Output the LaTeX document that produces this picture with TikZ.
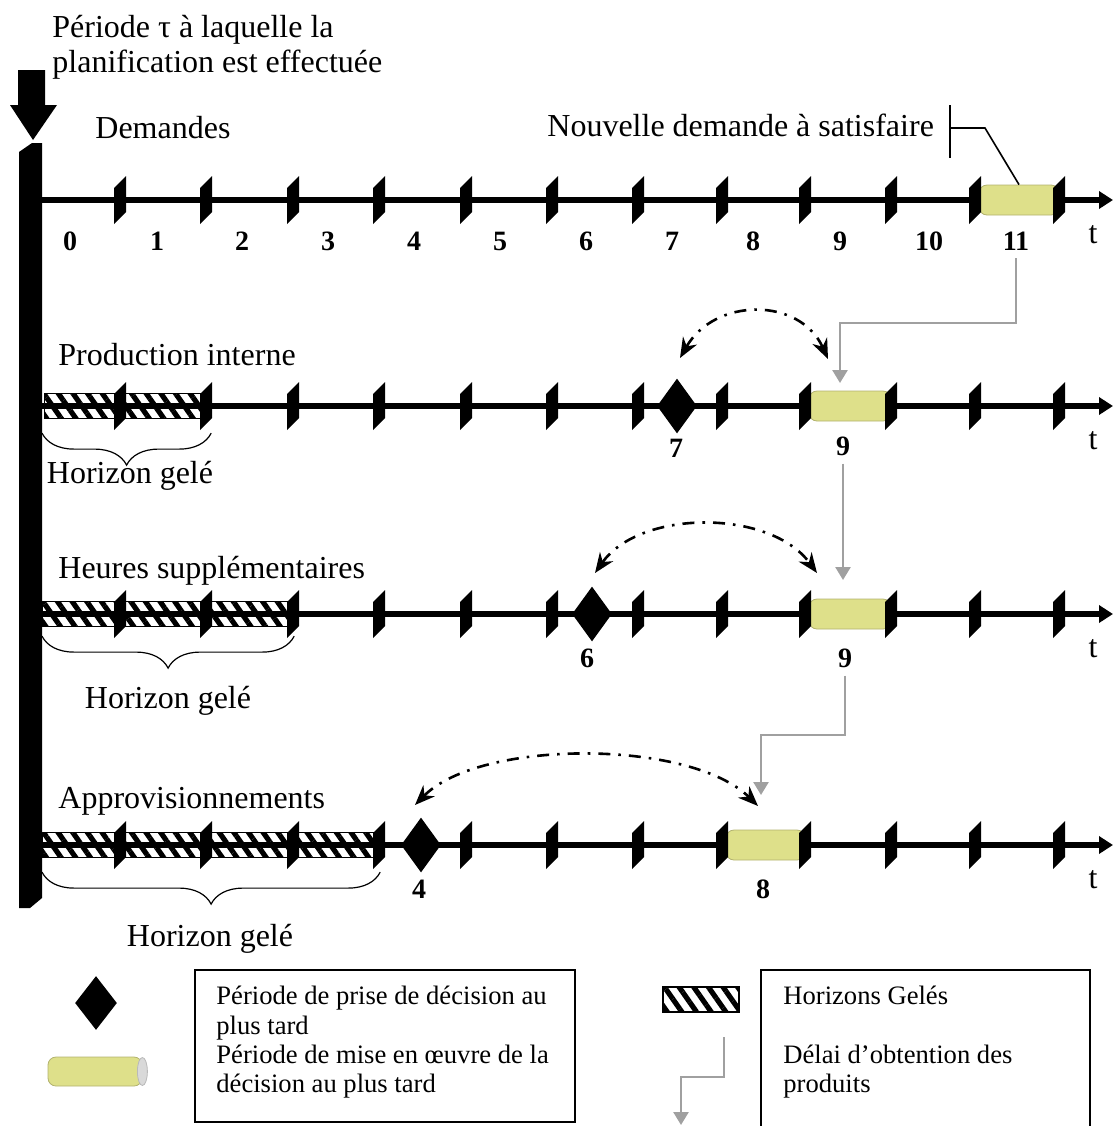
\documentclass[tikz,border=0pt]{standalone}
\usepackage{fontspec}
\setmainfont{Liberation Serif}
\usetikzlibrary{arrows.meta,calc,shapes.geometric,patterns.meta,decorations.pathreplacing}

\definecolor{tubeyellow}{RGB}{222,224,138}
\definecolor{tubeedge}{RGB}{178,178,110}
\definecolor{delaygray}{RGB}{160,160,160}

\tikzset{
	slot/.pic = {\fill (-6,-12) -- (6,-24) -- (6,12) -- (-6,24) -- cycle;}
}

\begin{document}
\begin{tikzpicture} [
	x=0.5pt, y=-0.5pt,
	every node/.style = {inner sep=0pt},
	big/.style = {font=\fontsize{16}{17.5}\selectfont},
	small/.style = {font=\fontsize{13.3}{14.65}\selectfont, align=left},
	period/.style = {font=\fontsize{14}{16}\selectfont\bfseries, inner sep=4pt},
	axis/.style = {line width=2.8pt, -{Triangle[length=7pt,width=8.5pt]}},
	frozen/.style = {draw, line width=0.6pt, anchor=west, minimum height=12.5pt, pattern={Lines[angle=-55,distance=6pt,line width=2.6pt]}},
	tube/.style = {rectangle, rounded corners=4pt, fill=tubeyellow, draw=tubeedge, line width=0.4pt, minimum height=15pt},
	decision/.style = {diamond, fill=black, minimum width=20pt, minimum height=27.5pt},
	latest/.style = {line width=1.3pt, dash pattern=on 6pt off 4pt on 1.3pt off 4pt, {Stealth[length=10pt,width=8pt]}-{Stealth[length=10pt,width=8pt]}},
	delay/.style = {delaygray, line width=1.3pt, -{Triangle[length=6.5pt,width=7.5pt]}},
	gel/.style = {decorate, decoration={brace, mirror, amplitude=16pt}, line width=0.6pt}
]
\useasboundingbox (0,0) rectangle (1113,1126);

\node [big, anchor=north west, align=left] (titre) at (52,15) {Période τ à laquelle la\\planification est effectuée};
\fill (18,70) -- (45,70) -- (45,105) -- (57,105) -- (33,140) -- (10,105) -- (18,105) -- cycle;
\fill (19,152) -- (32,143) -- (42,143) -- (42,898) -- (30,908) -- (19,908) -- cycle;

\node [big, anchor=base west] (dem) at (95,138) {Demandes};
\node [big, anchor=base west] (nouv) at (547,136) {Nouvelle demande à satisfaire};
\node [big, anchor=base west] (prod) at (58,365) {Production interne};
\node [big, anchor=base west] (heur) at (58,578) {Heures supplémentaires};
\node [big, anchor=base west] (appr) at (58,808) {Approvisionnements};

\node [frozen, minimum width=82pt] (hz2) at (42,406) {};
\node [frozen, minimum width=125.5pt] (hz3) at (42,614) {};
\node [frozen, minimum width=168.5pt] (hz4) at (42,845) {};

\foreach \y in {200,406,614,845} {
	\draw [axis] (42,\y) -- (1113,\y);
	\node [big, anchor=base] (t\y) at (1093,\y+43) {t};
}

\node [tube, minimum width=40pt] (tp1) at (1019,200) {};
\node [tube, minimum width=41pt] (tp2) at (850,406) {};
\node [tube, minimum width=41pt] (tp3) at (850,614) {};
\node [tube, minimum width=39.5pt] (tp4) at (765.5,845) {};

\foreach \y in {200,406,614,845}
	\foreach \x in {120,206,293,379,466,552,638,722,805,891,975,1059}
		\pic at (\x,\y) {slot};

\node [decision] (d2) at (677,406) {};
\node [decision] (d3) at (592,614) {};
\node [decision] (d4) at (421,845) {};

\foreach \n/\x in {0/70,1/157,2/242,3/328,4/414,5/500,6/586,7/672,8/753,9/840,10/929,11/1016}
	\node [period, anchor=base] (n\n) at (\x,250) {\n};
\node [period, anchor=base] (p7) at (676,457) {7};
\node [period, anchor=base] (p9b) at (843,455) {9};
\node [period, anchor=base] (p6) at (587,667) {6};
\node [period, anchor=base] (p9c) at (845,667) {9};
\node [period, anchor=base] (p4) at (419,898) {4};
\node [period, anchor=base] (p8) at (763,898) {8};

\draw [gel] ([yshift=-6pt]hz2.south west) -- ([yshift=-6pt]hz2.south east);
\draw [gel] ([yshift=-4.5pt]hz3.south west) -- ([yshift=-4.5pt]hz3.south east);
\draw [gel] ([yshift=-7pt]hz4.south west) -- ([yshift=-7pt]hz4.south east);
\node [big, anchor=base] (hg2) at (130,483) {Horizon gelé};
\node [big, anchor=base] (hg3) at (168,708) {Horizon gelé};
\node [big, anchor=base] (hg4) at (210,946) {Horizon gelé};

\coordinate (cb) at (950,128);
\draw [line width=0.8pt] (950,105) -- (950,158);
\draw [line width=0.8pt] (cb) -- ++(35,0) -- (tp1.north);

\coordinate (e2) at (840,383);
\coordinate (e3) at (844,580);
\coordinate (e4) at (761,795);
\draw [delay] (n11.south) |- ($(e2)+(0,-60)$) -- (e2);
\draw [delay] (p9b.south) -- (p9b.south |- e3);
\draw [delay] (p9c.south) |- ($(e4)+(0,-60)$) -- (e4);

\coordinate (a2) at (680,358);
\coordinate (b2) at (828,359);
\coordinate (a3) at (595,573);
\coordinate (b3) at (817,573);
\coordinate (a4) at (415,805);
\coordinate (b4) at (758,806);
\draw [latest] (a2) .. controls (715,297) and (800,297) .. (b2);
\draw [latest] (a3) .. controls (640,509) and (770,509) .. (b3);
\draw [latest] (a4) .. controls (480,739) and (690,739) .. (b4);

\node [decision, minimum width=21pt, minimum height=27pt] (ld) at (96,1003) {};
\node [tube, minimum width=47pt, minimum height=14.5pt] (lt) at (95,1071.5) {};
\filldraw [fill=gray!30, draw=gray!55, line width=0.4pt] (lt.east) ellipse [x radius=2.5pt, y radius=7pt];
\node [draw, line width=0.8pt, minimum width=190pt, minimum height=76pt] (box1) at (385,1046) {};
\node [small, anchor=north west] (txt1) at (216,986) {Période de prise de décision au\\plus tard\\Période de mise en œuvre de la\\décision au plus tard};

\node [frozen, anchor=center, minimum width=38pt] (lh) at (701,999.5) {};
\coordinate (lg1) at (724,1037);
\coordinate (lg2) at (681,1125);
\draw [delay] (lg1) |- ($(lg2)+(0,-48)$) -- (lg2);
\node [draw, line width=0.8pt, minimum width=164.5pt, minimum height=80pt] (box2) at (925.5,1050) {};
\node [small, anchor=north west] (txt2) at (783,986) {Horizons Gelés\\[14.65pt]Délai d’obtention des\\produits};
\end{tikzpicture}
\end{document}
